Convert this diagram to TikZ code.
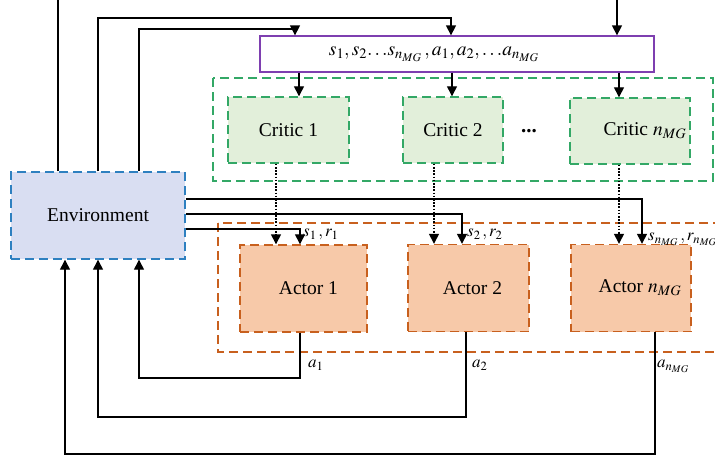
\documentclass[tikz,border=0pt]{standalone}
\usepackage{mathptmx}
\usepackage{fontspec}
\setmainfont{Liberation Serif}
\usetikzlibrary{arrows.meta}
\definecolor{envfill}{HTML}{D9DEF2}
\definecolor{envline}{HTML}{2E80C0}
\definecolor{crfill}{HTML}{E2EFDA}
\definecolor{crline}{HTML}{33A866}
\definecolor{acfill}{HTML}{F7C9A9}
\definecolor{acline}{HTML}{C8601E}
\definecolor{purp}{HTML}{7E3FB0}
\tikzset{
  x=1pt,y=-1pt,
  boxdash/.style={dash pattern=on 9pt off 5pt, line width=1.4pt},
  envbox/.style={draw=envline, fill=envfill, boxdash, minimum width=174pt, minimum height=87pt, font=\fontsize{19.5}{22}\selectfont},
  criticbox/.style={draw=crline, fill=crfill, boxdash, minimum height=66pt, font=\fontsize{19.5}{22}\selectfont},
  actorbox/.style={draw=acline, fill=acfill, boxdash, minimum height=87pt, font=\fontsize{19.5}{22}\selectfont},
  grpgreen/.style={draw=crline, boxdash},
  grporange/.style={draw=acline, boxdash},
  arr/.style={-{Triangle[width=10pt,length=10pt]}, line width=1.3pt},
  dotarr/.style={-{Triangle[width=10pt,length=10pt]}, line width=1.4pt, dash pattern=on 1.6pt off 1.6pt},
  lbl/.style={font=\fontsize{17}{19}\selectfont, inner sep=0pt},
}
\begin{document}
\begin{tikzpicture}
\useasboundingbox (0,0) rectangle (715,458);
\clip (0,0) rectangle (715,458);

% group frames
\draw[grpgreen] (213,78) rectangle (713,181);
\draw[grporange] (218,223) rectangle (740,352);

% nodes
\node[envbox] (env) at (98,215.5) {Environment};
\node[draw=purp, line width=1.3pt, fill=white, minimum width=394pt, minimum height=36pt, inner sep=0pt] (buf) at (457,54) {};
\node[font=\fontsize{19.5}{22}\selectfont, inner sep=0pt] (buftext) at (434,54) {$s_1, s_2{\ldots}s_{n_{MG}}\,, a_1, a_2,{\ldots}a_{n_{MG}}$};

\node[criticbox, minimum width=121pt] (c1) at (288.5,130) {Critic 1};
\node[criticbox, minimum width=100pt] (c2) at (453,130) {Critic 2};
\node[criticbox, minimum width=120pt] (cn) at (630,131) {\hspace*{30pt}Critic $n_{MG}$};
\node[font=\fontsize{21}{24}\selectfont\bfseries, anchor=base, inner sep=0pt] (dots) at (529,132) {...};

\node[actorbox, minimum width=127pt] (a1) at (303.5,288.5) {\hspace*{10pt}Actor 1};
\node[actorbox, minimum width=121pt] (a2) at (468.5,288) {\hspace*{8pt}Actor 2};
\node[actorbox, minimum width=120pt] (an) at (631,288) {\hspace*{18pt}Actor $n_{MG}$};

% free ends at the top edge
\coordinate (topA) at (58,0);
\coordinate (topB) at (617,0);

% environment to buffer
\draw[line width=1.3pt] (58,0 |- env.north) -- (topA);
\draw[arr] (98,0 |- env.north) -- (98,18) -| (451,0 |- buf.north);
\draw[arr] (139,0 |- env.north) -- (139,29) -| (295,0 |- buf.north);
\draw[arr] (topB) -- (617,0 |- buf.north);

% buffer to critics
\draw[arr] (299,0 |- buf.south) -- (299,0 |- c1.north);
\draw[arr] (452,0 |- buf.south) -- (452,0 |- c2.north);
\draw[arr] (619,0 |- buf.south) -- (619,0 |- cn.north);

% critics to actors (dotted)
\draw[dotarr] (276,0 |- c1.south) -- (276,0 |- a1.north);
\draw[dotarr] (434,0 |- c2.south) -- (434,0 |- a2.north);
\draw[dotarr] (619,0 |- cn.south) -- (619,0 |- an.north);

% environment states to actors
\draw[arr] (env.east |- 0,229) -| (300,0 |- a1.north);
\draw[arr] (env.east |- 0,214) -| (462,0 |- a2.north);
\draw[arr] (env.east |- 0,199) -| (642,0 |- an.north);

% actions back to environment
\draw[arr] (300,0 |- a1.south) -- (300,378) -| (139,0 |- env.south);
\draw[arr] (466,0 |- a2.south) -- (466,417) -| (98,0 |- env.south);
\draw[arr] (655,0 |- an.south) -- (655,454) -| (65,0 |- env.south);

% labels
\node[lbl, anchor=south west] (l1) at (303,240) {$s_1\,, r_1$};
\node[lbl, anchor=south west] (l2) at (467,240) {$s_2\,, r_2$};
\node[lbl, anchor=south west] (ln) at (648,246) {$s_{n_{MG}}\,, r_{n_{MG}}$};
\node[lbl, anchor=north west] (la1) at (308,360) {$a_1$};
\node[lbl, anchor=north west] (la2) at (472,360) {$a_2$};
\node[lbl, anchor=north west] (lan) at (657,360) {$a_{n_{MG}}$};
\end{tikzpicture}
\end{document}
